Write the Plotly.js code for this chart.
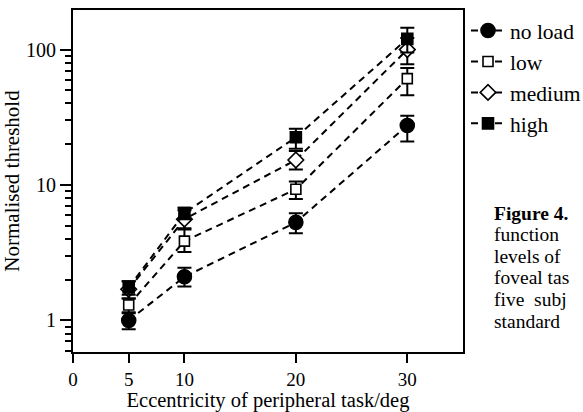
<!DOCTYPE html>
<html>
<head>
<meta charset="utf-8">
<script src="https://cdn.plot.ly/plotly-3.0.1.min.js"></script>
<style>html,body{margin:0;padding:0;background:#fff;overflow:hidden}#chart{width:583px;height:412px}</style>
</head>
<body>
<div id="chart"></div>
<script>
// ---- data ----
const eccentricity = [5, 10, 20, 30];

const noLoad       = [1.0, 2.1, 5.3, 27.5];
const noLoadErrUp  = [0.13, 0.35, 0.9, 5.0];
const noLoadErrDn  = [0.14, 0.32, 0.9, 6.5];

const low          = [1.3, 3.85, 9.3, 61];
const lowErrUp     = [0.15, 0.85, 1.3, 12];
const lowErrDn     = [0.15, 0.65, 1.4, 15];

const medium       = [1.7, 5.6, 15.3, 100];
const mediumErrUp  = [0.25, 0.9, 2.5, 22];
const mediumErrDn  = [0.25, 0.8, 2.3, 22];

const high         = [1.75, 6.2, 22.5, 120];
const highErrUp    = [0.2, 0.6, 3.5, 25];
const highErrDn    = [0.2, 0.6, 4.0, 25];

const seriesNames  = ["no load", "low", "medium", "high"];

const xTickVals    = [0, 5, 10, 20, 30];
const xTickText    = ["0", "5", "10", "20", "30"];
const yTickVals    = [1, 10, 100];
const yTickText    = ["1", "10", "100"];
const yMinorVals   = [0.6, 0.7, 0.8, 0.9, 2, 3, 4, 5, 6, 7, 8, 9, 20, 30, 40, 50, 60, 70, 80, 90];

const captionLines = ["<b>Figure 4.</b>", "function", "levels of", "foveal tas", "five  subj", "standard"];

// ---- styling ----
const FONT = "Liberation Serif";
function mk(y, up, dn, name, symbol, size, fill) {
  return {
    x: eccentricity, y: y, name: name, type: "scatter", mode: "lines+markers",
    line: {color: "#000", width: 2, dash: "7px,5px"},
    marker: {symbol: symbol, size: size, color: fill, line: {color: "#000", width: 1.6}},
    error_y: {type: "data", symmetric: false, array: up, arrayminus: dn,
              color: "#000", thickness: 2, width: 7},
    legendgroup: name
  };
}
const traces = [
  mk(noLoad, noLoadErrUp, noLoadErrDn, seriesNames[0], "circle", 14, "#000"),
  mk(low, lowErrUp, lowErrDn, seriesNames[1], "square", 10, "#fff"),
  mk(medium, mediumErrUp, mediumErrDn, seriesNames[2], "diamond", 12, "#fff"),
  mk(high, highErrUp, highErrDn, seriesNames[3], "square", 11, "#000")
];

const annotations = captionLines.map((t, i) => ({
  xref: "paper", yref: "paper", x: 1.077, xanchor: "left",
  y: 1 - (213 - 10 + i * 21.6) / 342, yanchor: "middle",
  borderpad: 0,
  text: t, showarrow: false, align: "left",
  font: {family: FONT, size: 19.5, color: "#000"}
}));

const layout = {
  width: 583, height: 412,
  margin: {l: 73, r: 120, t: 10, b: 60, pad: 0, autoexpand: false},
  paper_bgcolor: "#fff", plot_bgcolor: "#fff",
  font: {family: FONT, size: 20, color: "#000"},
  showlegend: true,
  legend: {x: 1.0077, xanchor: "left", y: 1.0, yanchor: "top",
           font: {family: FONT, size: 21.5, color: "#000"},
           bgcolor: "rgba(0,0,0,0)", traceorder: "grouped", tracegroupgap: 0,
           itemwidth: 34},
  xaxis: {
    range: [0, 35], tickmode: "array", tickvals: xTickVals, ticktext: xTickText,
    ticks: "outside", ticklen: 9, tickwidth: 2, tickcolor: "#000",
    showline: true, linewidth: 2, linecolor: "#000", mirror: true,
    showgrid: false, zeroline: false,
    tickfont: {family: FONT, size: 19, color: "#000"},
    title: {text: "Eccentricity of peripheral task/deg", font: {family: FONT, size: 20.5, color: "#000"}, standoff: 8}
  },
  yaxis: {
    type: "log", range: [Math.log10(0.585), Math.log10(196)],
    tickmode: "array", tickvals: yTickVals, ticktext: yTickText,
    ticks: "outside", ticklen: 11, tickwidth: 2, tickcolor: "#000",
    minor: {tickmode: "array", tickvals: yMinorVals, ticks: "outside", ticklen: 6, tickwidth: 2, tickcolor: "#000", showgrid: false},
    showline: true, linewidth: 2, linecolor: "#000", mirror: true,
    showgrid: false, zeroline: false,
    tickfont: {family: FONT, size: 20, color: "#000"},
    title: {text: "Normalised threshold", font: {family: FONT, size: 21, color: "#000"}, standoff: 4}
  },
  annotations: annotations
};

Plotly.newPlot("chart", traces, layout, {displayModeBar: false, staticPlot: true});
</script>
</body>
</html>
